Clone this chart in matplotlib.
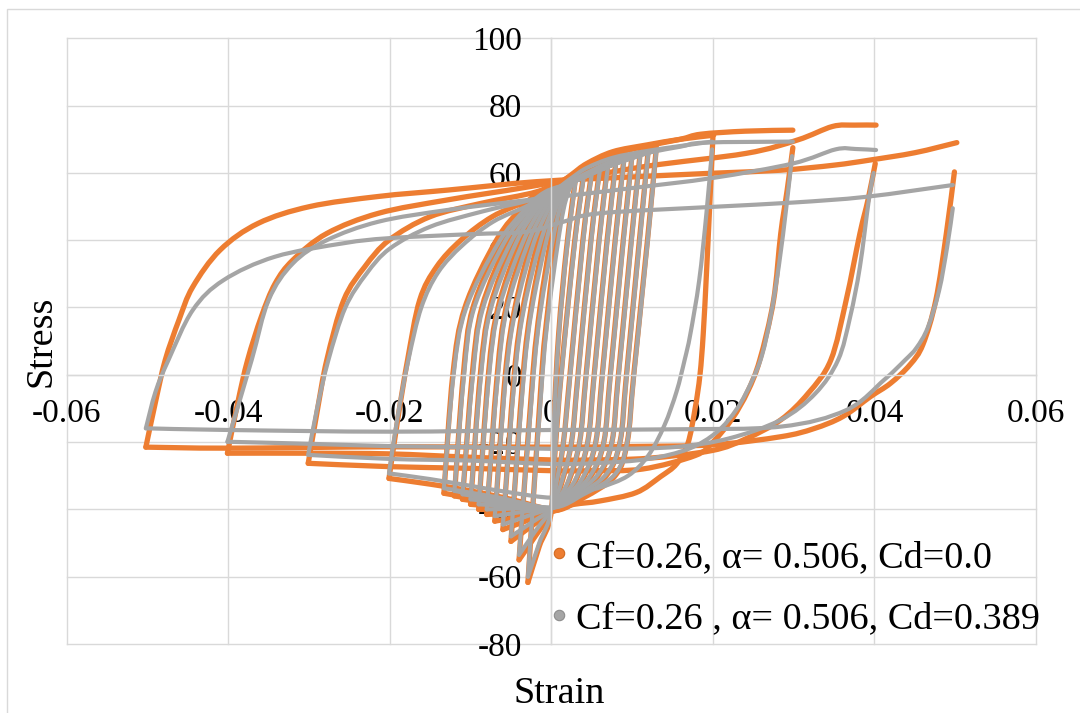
import matplotlib
matplotlib.use("Agg")
import matplotlib.pyplot as plt
from matplotlib.lines import Line2D
from matplotlib.patches import Rectangle, PathPatch
from matplotlib.path import Path

plt.rcParams['font.family'] = ['Liberation Serif', 'DejaVu Serif']

# ---------------- axes / labels ----------------
x_ticks = [-0.06, -0.04, -0.02, 0.0, 0.02, 0.04, 0.06]
x_tick_labels = ['-0.06', '-0.04', '-0.02', '0', '0.02', '0.04', '0.06']
y_ticks = [-80, -60, -40, -20, 0, 20, 40, 60, 80, 100]
y_tick_labels = ['-80', '-60', '-40', '-20', '0', '20', '40', '60', '80', '100']
x_title = 'Strain'
y_title = 'Stress'
series_labels = ['Cf=0.26, α= 0.506, Cd=0.0', 'Cf=0.26 , α= 0.506, Cd=0.389']

# ---------------- series 1 (Cd=0.0): (strain, stress) ----------------
o_up_50 = [(-0.0502,-21.5),(-0.0490,-8.0),(-0.0478,4.4),(-0.0461,16.3),(-0.0444,26.1),(-0.041,37.1),(-0.0363,45.0),(-0.0299,50.0),(-0.0214,53.0),(-0.0128,54.9),(-0.0018,57.4),(0.01,58.8),(0.0199,59.9),(0.0284,60.8),(0.035,62.3),(0.0394,63.8),(0.045,66.0),(0.0502,69.0)]
o_dn_50 = [(0.0499,60.3),(0.0489,42.0),(0.0476,22.2),(0.046,9.0),(0.0444,3.0),(0.042,-2.5),(0.0395,-6.5),(0.0361,-12.4),(0.0325,-16.0),(0.0284,-18.4),(0.02,-20.8),(0.01,-21.3),(0.0,-21.5),(-0.02,-21.4),(-0.04,-21.8),(-0.0502,-21.5)]
o_up_40 = [(-0.0401,-23.3),(-0.0388,-8.0),(-0.0376,4.4),(-0.0359,17.3),(-0.0342,27.1),(-0.032,34.1),(-0.0278,42.0),(-0.0214,48.0),(-0.0128,52.0),(-0.0027,55.9),(0.0113,61.8),(0.0241,65.8),(0.0305,69.8),(0.0348,73.8),(0.0375,74.2),(0.0402,74.2)]
o_dn_40 = [(0.0401,62.8),(0.0392,52.0),(0.0382,42.0),(0.0365,22.2),(0.0346,4.4),(0.0318,-5.5),(0.0284,-13.4),(0.0241,-19.0),(0.0199,-22.5),(0.012,-24.8),(0.005,-25.3),(0.0,-25.3),(-0.01,-24.5),(-0.02,-23.5),(-0.03,-23.3),(-0.0401,-23.3)]
o_up_30 = [(-0.0301,-26.3),(-0.029,-11.0),(-0.0278,4.4),(-0.0257,22.2),(-0.0231,32.1),(-0.0201,40.0),(-0.015,47.0),(-0.0086,51.0),(-0.0018,54.4),(0.002,58.5),(0.0044,62.0),(0.0076,65.5),(0.0118,68.0),(0.016,70.0),(0.0185,71.5),(0.024,72.4),(0.0299,72.7)]
o_dn_30 = [(0.0299,67.5),(0.0292,55.0),(0.0284,42.0),(0.0275,22.0),(0.0258,4.4),(0.0243,-5.0),(0.0224,-13.0),(0.02,-20.0),(0.0178,-24.0),(0.0113,-28.0),(0.005,-28.5),(0.0,-28.5),(-0.01,-27.8),(-0.02,-27.3),(-0.0301,-26.3)]
o_up_20 = [(-0.0201,-30.8),(-0.019,-13.0),(-0.0178,4.4),(-0.0163,22.2),(-0.0142,32.1),(-0.0112,40.0),(-0.0073,47.0),(-0.0027,52.0),(0.0005,56.0),(0.0025,59.5),(0.0044,62.8),(0.0076,66.3),(0.0118,68.3),(0.016,70.0),(0.0201,71.2)]
o_dn_20 = [(0.0200,70.5),(0.0196,50.0),(0.0192,30.0),(0.0188,12.0),(0.0184,0.0),(0.0178,-10.0),(0.0169,-20.4),(0.0155,-26.5),(0.0135,-30.3),(0.0105,-35.0),(0.006,-37.5),(0.0028,-38.5),(0.0,-40.0),(-0.005,-37.0),(-0.01,-34.5),(-0.015,-32.5),(-0.0201,-30.8)]
o_loop_003 = [(-0.0029,-61.7),(-0.0012,0),(-0.0004,20),(0.0006,40),(0.0013,50),(0.0019,55),(0.0025,57.5),(0.003,58.5),(0.0019,38),(0.0009,12),(0.0003,-15),(0.0,-40.5),(-0.0015,-51),(-0.0029,-61.7)]
o_loop_004 = [(-0.004,-55),(-0.0023,0),(-0.0014,20),(-0.0001,40),(0.0008,50),(0.0016,55),(0.0025,57.8),(0.004,59.5),(0.0029,40),(0.0014,5),(0.0007,-15),(0.0002,-32),(0.0,-40.5),(-0.002,-48),(-0.004,-55)]
o_loop_005 = [(-0.005,-49.5),(-0.0035,0),(-0.0025,20),(-0.0009,40),(0.0003,50),(0.0013,55),(0.0025,58),(0.005,60.5),(0.0039,40),(0.0023,0),(0.0015,-20),(0.0006,-33),(0.0,-40.5),(-0.0025,-45),(-0.005,-49.5)]
o_loop_006 = [(-0.006,-46),(-0.0046,0),(-0.0035,20),(-0.0016,40),(-0.0001,50),(0.001,55),(0.0025,58),(0.006,61.5),(0.0049,40),(0.0033,0),(0.0025,-20),(0.0013,-32),(0.0004,-38.5),(0.0,-40.5),(-0.003,-43.3),(-0.006,-46)]
o_loop_007 = [(-0.007,-43.5),(-0.0057,0),(-0.0045,20),(-0.0024,40),(-0.0006,50),(0.0007,55),(0.0025,58),(0.0048,60.5),(0.007,62.5),(0.0059,40),(0.0043,0),(0.0035,-20),(0.0021,-32),(0.0008,-38),(0.0,-40.5),(-0.0035,-42),(-0.007,-43.5)]
o_loop_008 = [(-0.008,-41.5),(-0.0067,0),(-0.0056,20),(-0.0031,40),(-0.0011,50),(0.0005,55),(0.0025,58),(0.0053,61),(0.008,63.5),(0.0069,40),(0.0053,0),(0.0045,-20),(0.003,-31.5),(0.0012,-37.5),(0.0,-40.5),(-0.004,-41),(-0.008,-41.5)]
o_loop_009 = [(-0.009,-40),(-0.0078,0),(-0.0066,20),(-0.0038,40),(-0.0016,50),(0.0002,55),(0.0025,58),(0.0058,61.5),(0.009,64.5),(0.0079,40),(0.0063,0),(0.0055,-20),(0.0039,-31),(0.0017,-37.5),(0.0,-40.5),(-0.0045,-40.2),(-0.009,-40)]
o_loop_010 = [(-0.010,-38.5),(-0.0088,0),(-0.0076,20),(-0.0046,40),(-0.0021,50),(-0.0001,55),(0.0025,58),(0.0063,62),(0.010,65.5),(0.0089,40),(0.0073,0),(0.0065,-20),(0.0048,-30.5),(0.0022,-37),(0.0,-40.5),(-0.005,-39.5),(-0.010,-38.5)]
o_loop_011 = [(-0.011,-37),(-0.0098,0),(-0.0086,20),(-0.0053,40),(-0.0025,50),(-0.0004,55),(0.0025,58),(0.0068,62.5),(0.011,66),(0.0099,40),(0.0083,0),(0.0075,-20),(0.0058,-30),(0.0028,-36.5),(0.0,-40.5),(-0.0055,-38.8),(-0.011,-37)]
o_loop_012 = [(-0.012,-36),(-0.0109,0),(-0.0097,20),(-0.0061,40),(-0.003,50),(-0.0007,55),(0.0025,58),(0.0073,63),(0.012,66.8),(0.0109,40),(0.0093,0),(0.0085,-20),(0.0068,-30),(0.0034,-36.5),(0.0,-40.5),(-0.006,-38.3),(-0.012,-36)]
o_loop_013 = [(-0.0133,-35.2),(-0.0122,0),(-0.0107,20),(-0.0068,40),(-0.0035,50),(-0.001,55),(0.0025,58),(0.0078,63.5),(0.013,67.5),(0.0119,40),(0.0102,0),(0.0094,-20),(0.0079,-30),(0.004,-36.5),(0.0,-40.5),(-0.0065,-38),(-0.0133,-35.2)]

# ---------------- series 2 (Cd=0.389): (strain, stress) ----------------
g_up_50 = [(-0.0502,-15.9),(-0.049,-5.0),(-0.0474,4.4),(-0.0444,19.2),(-0.0406,28.1),(-0.0342,35.1),(-0.0257,39.1),(-0.0201,40.6),(-0.01,41.8),(-0.0031,42.5),(0.0015,45.5),(0.006,48.0),(0.0199,49.9),(0.03,51.2),(0.039,52.9),(0.0497,56.4)]
g_dn_50 = [(0.0497,49.5),(0.049,38.0),(0.048,25.0),(0.0466,14.0),(0.0452,8.0),(0.0438,4.4),(0.0412,-1.5),(0.0365,-10.5),(0.0284,-15.4),(0.015,-16.2),(0.0,-16.4),(-0.02,-16.9),(-0.04,-16.4),(-0.0502,-15.9)]
g_up_40 = [(-0.0401,-19.9),(-0.0371,4.4),(-0.035,22.2),(-0.032,33.1),(-0.0278,40.0),(-0.0214,45.5),(-0.0128,49.0),(-0.0027,52.0),(0.001,52.9),(0.01,55.5),(0.02,58.5),(0.0299,62.8),(0.0352,67.0),(0.0377,67.1),(0.0402,66.8)]
g_dn_40 = [(0.0399,60.0),(0.0393,51.9),(0.0382,32.1),(0.037,17.3),(0.0355,4.4),(0.0327,-5.5),(0.0284,-13.4),(0.022,-18.9),(0.0156,-21.4),(0.008,-22.0),(0.0,-22.0),(-0.01,-21.5),(-0.02,-21.2),(-0.03,-20.5),(-0.0401,-19.9)]
g_up_30 = [(-0.0301,-23.8),(-0.029,-10.0),(-0.0276,4.4),(-0.0255,20.0),(-0.0229,30.0),(-0.02,37.5),(-0.015,44.0),(-0.0086,48.5),(-0.0018,52.5),(0.002,57.0),(0.0044,60.0),(0.0076,63.5),(0.012,66.0),(0.016,67.8),(0.019,69.0),(0.0299,69.3)]
g_dn_30 = [(0.0298,65.0),(0.0291,50.0),(0.0282,33.0),(0.0272,18.0),(0.0261,6.0),(0.0248,-2.0),(0.023,-10.0),(0.0205,-17.0),(0.017,-22.0),(0.012,-25.0),(0.006,-26.2),(0.0,-26.5),(-0.01,-25.5),(-0.02,-25.0),(-0.0301,-23.8)]
g_up_20 = [(-0.0201,-29.3),(-0.019,-12.0),(-0.0177,4.4),(-0.0161,20.0),(-0.014,30.5),(-0.011,38.5),(-0.0072,45.5),(-0.0027,50.5),(0.0005,55.0),(0.0025,58.5),(0.0044,61.5),(0.0076,64.5),(0.0118,66.5),(0.016,68.0),(0.0199,69.3)]
g_dn_20 = [(0.0199,67.0),(0.0192,48.0),(0.0183,28.0),(0.0172,12.0),(0.0165,4.4),(0.0155,-5.0),(0.014,-15.0),(0.012,-24.0),(0.0095,-30.0),(0.006,-33.5),(0.003,-35.0),(0.0,-36.5),(-0.005,-35.0),(-0.01,-33.0),(-0.015,-31.0),(-0.0201,-29.3)]
g_loop_003 = [(-0.0029,-60),(-0.0011,0),(-0.0003,19.5),(0.0008,39),(0.0015,49),(0.0021,54.3),(0.0027,57),(0.003,57.7),(0.0019,37),(0.0009,11),(0.0003,-15),(0.0,-39.5),(-0.0015,-50),(-0.0029,-60)]
g_loop_004 = [(-0.004,-53.5),(-0.0022,0),(-0.0013,19.5),(0.0001,39),(0.001,49),(0.0018,54.3),(0.0027,57.3),(0.004,58.7),(0.0029,39),(0.0014,4),(0.0007,-15),(0.0002,-31.5),(0.0,-39.5),(-0.002,-46.5),(-0.004,-53.5)]
g_loop_005 = [(-0.005,-48),(-0.0034,0),(-0.0024,19.5),(-0.0007,39),(0.0005,49),(0.0015,54.3),(0.0027,57.3),(0.005,59.7),(0.0039,39),(0.0023,-1),(0.0015,-20),(0.0006,-32.5),(0.0,-39.5),(-0.0025,-44),(-0.005,-48)]
g_loop_006 = [(-0.006,-44.5),(-0.0045,0),(-0.0034,19.5),(-0.0014,39),(0.0001,49),(0.0012,54.3),(0.0027,57.3),(0.006,60.7),(0.0049,39),(0.0033,-1),(0.0025,-20),(0.0013,-31.5),(0.0004,-37.5),(0.0,-39.5),(-0.003,-42),(-0.006,-44.5)]
g_loop_007 = [(-0.007,-42),(-0.0056,0),(-0.0044,19.5),(-0.0022,39),(-0.0004,49),(0.0009,54.3),(0.0027,57.3),(0.0048,59.7),(0.007,61.7),(0.0059,39),(0.0043,-1),(0.0035,-20),(0.0021,-31.5),(0.0008,-37),(0.0,-39.5),(-0.0035,-40.7),(-0.007,-42)]
g_loop_008 = [(-0.008,-40),(-0.0066,0),(-0.0055,19.5),(-0.0029,39),(-0.0009,49),(0.0007,54.3),(0.0027,57.3),(0.0053,60.2),(0.008,62.7),(0.0069,39),(0.0053,-1),(0.0045,-20),(0.003,-31),(0.0012,-36.5),(0.0,-39.5),(-0.004,-39.7),(-0.008,-40)]
g_loop_009 = [(-0.009,-38.5),(-0.0077,0),(-0.0065,19.5),(-0.0036,39),(-0.0014,49),(0.0004,54.3),(0.0027,57.3),(0.0058,60.7),(0.009,63.7),(0.0079,39),(0.0063,-1),(0.0055,-20),(0.0039,-30.5),(0.0017,-36.5),(0.0,-39.5),(-0.0045,-39),(-0.009,-38.5)]
g_loop_010 = [(-0.010,-37),(-0.0087,0),(-0.0075,19.5),(-0.0044,39),(-0.0019,49),(0.0001,54.3),(0.0027,57.3),(0.0063,61.2),(0.010,64.7),(0.0089,39),(0.0073,-1),(0.0065,-20),(0.0048,-30),(0.0022,-36),(0.0,-39.5),(-0.005,-38.3),(-0.010,-37)]
g_loop_011 = [(-0.011,-35.5),(-0.0097,0),(-0.0085,19.5),(-0.0051,39),(-0.0023,49),(-0.0002,54.3),(0.0027,57.3),(0.0068,61.7),(0.011,65.2),(0.0099,39),(0.0083,-1),(0.0075,-20),(0.0058,-29.5),(0.0028,-35.5),(0.0,-39.5),(-0.0055,-37.5),(-0.011,-35.5)]
g_loop_012 = [(-0.012,-34.5),(-0.0108,0),(-0.0096,19.5),(-0.0059,39),(-0.0028,49),(-0.0005,54.3),(0.0027,57.3),(0.0073,62.2),(0.012,66),(0.0109,39),(0.0093,-1),(0.0085,-20),(0.0068,-29.5),(0.0034,-35.5),(0.0,-39.5),(-0.006,-37),(-0.012,-34.5)]
g_loop_013 = [(-0.0133,-33.7),(-0.0121,0),(-0.0106,19.5),(-0.0066,39),(-0.0033,49),(-0.0008,54.3),(0.0027,57.3),(0.0078,62.7),(0.013,66.7),(0.0119,39),(0.0102,-1),(0.0094,-20),(0.0079,-29.5),(0.004,-35.5),(0.0,-39.5),(-0.0065,-36.5),(-0.0133,-33.7)]

series1_loops = [o_loop_003, o_loop_004, o_loop_005, o_loop_006, o_loop_007, o_loop_008,
                 o_loop_009, o_loop_010, o_loop_011, o_loop_012, o_loop_013]
series1_branches = [o_up_20, o_dn_20, o_up_30, o_dn_30, o_up_40, o_dn_40, o_up_50, o_dn_50]
series2_loops = [g_loop_003, g_loop_004, g_loop_005, g_loop_006, g_loop_007, g_loop_008,
                 g_loop_009, g_loop_010, g_loop_011, g_loop_012, g_loop_013]
series2_branches = [g_up_20, g_dn_20, g_up_30, g_dn_30, g_up_40, g_dn_40, g_up_50, g_dn_50]

# ---------------- styling ----------------
ORANGE = '#ED7D31'
GRAY = '#A5A5A5'
GRID = '#D9D9D9'
W, H = 1080, 713


def split_at_reversal(pts):
    """Split a closed loop at its maximum-strain reversal point (as Excel draws each branch)."""
    k = max(range(len(pts)), key=lambda i: pts[i][0])
    return [pts[:k + 1], pts[k:]]


def smoothed_path(pts):
    """Excel-style 'smoothed line' through the data points (cubic Bezier segments)."""
    n = len(pts)
    verts = [pts[0]]
    codes = [Path.MOVETO]
    for i in range(n - 1):
        p0 = pts[i - 1] if i > 0 else pts[i]
        p1 = pts[i]
        p2 = pts[i + 1]
        p3 = pts[i + 2] if i + 2 < n else pts[i + 1]
        c1 = (p1[0] + (p2[0] - p0[0]) / 6.0, p1[1] + (p2[1] - p0[1]) / 6.0)
        c2 = (p2[0] - (p3[0] - p1[0]) / 6.0, p2[1] - (p3[1] - p1[1]) / 6.0)
        verts += [c1, c2, p2]
        codes += [Path.CURVE4] * 3
    return Path(verts, codes)


fig = plt.figure(figsize=(W / 100, H / 100), dpi=100)
fig.patch.set_facecolor('white')

# outer chart border (clipped at right/bottom in the reference)
fig.add_artist(Rectangle((7.3 / W, -0.05), 1.2, 1 - 9 / H + 0.05, transform=fig.transFigure,
                         fill=False, ec=GRID, lw=1.0))

ax = fig.add_axes([66.7 / W, 1 - 644 / H, (1036 - 66.7) / W, (644 - 38.3) / H])
ax.set_xlim(x_ticks[0], x_ticks[-1])
ax.set_ylim(y_ticks[0], y_ticks[-1])
ax.set_facecolor('none')

for xv in x_ticks:
    ax.axvline(xv, color=GRID, lw=1.0, zorder=0.5, clip_on=False)
for yv in y_ticks:
    ax.axhline(yv, color=GRID, lw=1.0, zorder=0.5, clip_on=False)

ax.set_xticks(x_ticks)
ax.set_xticklabels(x_tick_labels)
ax.set_yticks(y_ticks)
ax.set_yticklabels(y_tick_labels)
for s in ['top', 'right']:
    ax.spines[s].set_visible(False)
ax.spines['left'].set_position(('data', 0))
ax.spines['bottom'].set_position(('data', 0))
for s in ['left', 'bottom']:
    ax.spines[s].set_color(GRID)
    ax.spines[s].set_linewidth(1.0)
ax.tick_params(length=0, labelsize=24, colors='black')
ax.tick_params(axis='x', pad=17)
ax.tick_params(axis='y', pad=21)


def draw_series(loops, branches, color, lw, z):
    parts = []
    for lp in loops:
        parts += split_at_reversal(lp)
    parts += branches
    for part in parts:
        ax.add_patch(PathPatch(smoothed_path(part), fill=False, ec=color, lw=lw,
                               capstyle='round', joinstyle='round', zorder=z))


draw_series(series1_loops, series1_branches, ORANGE, 3.8, 2.0)
draw_series(series2_loops, series2_branches, GRAY, 3.0, 2.1)

# axis titles
fig.text(41.7 / W, 1 - 341.7 / H, y_title, rotation=90, ha='center', va='center', fontsize=27.5)
fig.text(559 / W, 1 - 703 / H, x_title, ha='center', va='baseline', fontsize=27.5)

# legend
handles = [Line2D([], [], ls='none', marker='o', ms=7.5, mfc=ORANGE, mec='#D2691E', mew=0.8),
           Line2D([], [], ls='none', marker='o', ms=7.5, mfc=GRAY, mec='#8C8C8C', mew=0.8)]
leg = ax.legend(handles, series_labels, loc='upper left',
                bbox_to_anchor=(549.6 / W, 1 - 540 / H), bbox_transform=fig.transFigure,
                frameon=False, fontsize=27.5, handlelength=0.5, handletextpad=0.2,
                borderpad=0, borderaxespad=0, labelspacing=0.7)
leg.set_zorder(5)

fig.savefig('out.png', dpi=100)
